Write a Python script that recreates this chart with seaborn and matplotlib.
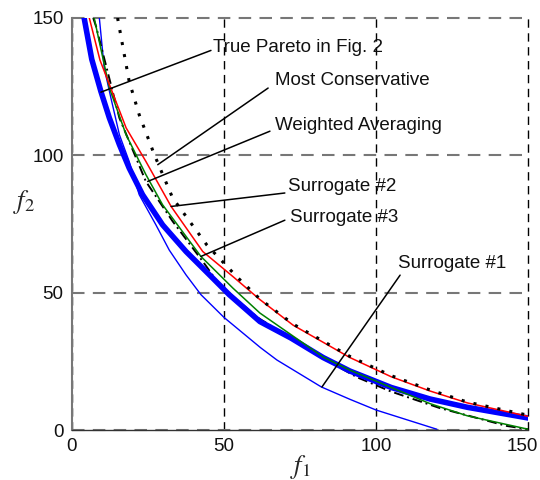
import matplotlib
matplotlib.use("Agg")
import matplotlib.pyplot as plt
import matplotlib.transforms as mtransforms
import seaborn as sns
import pandas as pd

# ---- data ----
true_f1 = [4.0, 6.5, 9.5, 12.3, 15.6, 18.8, 23.2, 29.8, 37.5, 46.3, 51.7, 61.8, 72, 82.6, 91.4, 105, 117.8, 130, 150]
true_f2 = [150, 135, 123.3, 113.6, 103.9, 95.4, 85.7, 74.7, 65, 55.3, 49.3, 39.5, 33.5, 26.4, 21.5, 15.5, 11.3, 8.3, 4.4]

s1_f1 = [9.0, 10.6, 12.8, 15.6, 18.8, 22.1, 27.6, 32, 37.5, 42.4, 50, 62, 67.4, 82, 91.4, 100, 110, 120]
s1_f2 = [150, 131.8, 120.9, 107.5, 97.8, 85.7, 74.7, 65.5, 56.5, 49.3, 41, 30, 25.5, 15.7, 11.2, 7.3, 3.8, 0.3]

s2_f1 = [5.7, 9.2, 12.3, 17.8, 24.3, 32.6, 43, 52.9, 61.8, 72.7, 91.4, 105, 117.8, 130, 150]
s2_f2 = [150, 134.7, 125.8, 110, 97.8, 81.4, 65, 55.9, 47.5, 38.2, 26.4, 19.4, 14.2, 9.9, 5]

s3_f1 = [7.3, 12.3, 17.8, 24.3, 29.8, 35.5, 42.4, 52.9, 61.8, 82.6, 91.4, 105, 117.8, 130, 150]
s3_f2 = [150, 124.5, 107.5, 93, 82, 73.5, 63.2, 51.7, 42.6, 26.6, 21.8, 15.5, 9.6, 5.2, 0.3]

mc_f1 = [15, 18.8, 22.1, 27.1, 33.1, 44.4, 54.3, 61.8, 72.7, 91.4, 105, 117.8, 130, 150]
mc_f2 = [150, 127, 114.8, 100.2, 84.5, 67.3, 55.7, 47.7, 38.6, 26.8, 19.8, 14.6, 10.2, 5.4]

wa_f1 = [7.0, 7.9, 15.6, 24.3, 33.1, 43, 48.5, 61, 82, 93.8, 105, 121, 143, 150]
wa_f2 = [150, 147, 113.6, 90.5, 76, 61.4, 52.9, 41, 26.5, 19.2, 14, 8, 1.5, 0.3]

labels = ["True Pareto in Fig. 2", "Most Conservative", "Weighted Averaging",
          "Surrogate #2", "Surrogate #3", "Surrogate #1"]
label_text_pos = [(46.4, 139.4), (66.8, 127.4), (66.8, 110.7), (71, 88.5), (71.7, 77.2), (107.2, 60.8)]
label_line_start = [(45.7, 138.2), (64.5, 124.5), (65.1, 108.8), (70, 86.3), (70, 76.4), (107.9, 56.4)]
label_line_end = [(9.5, 123), (28.2, 96.6), (24.9, 90.5), (32.6, 81.4), (42.4, 63.2), (82.2, 15.7)]

xticks = [0, 50, 100, 150]
yticks = [0, 50, 100, 150]

# ---- plotting ----
sns.set_style("white")
plt.rcParams['font.family'] = ['Liberation Sans Narrow', 'Liberation Sans', 'DejaVu Sans']
plt.rcParams['mathtext.fontset'] = 'stix'

fig = plt.figure(figsize=(5.4, 4.8), dpi=100)
ax = fig.add_axes([0.1333, 0.104, 0.8447, 0.8585])

def curve(x, y, **kw):
    df = pd.DataFrame({"f1": x, "f2": y})
    sns.lineplot(data=df, x="f1", y="f2", sort=False, estimator=None, ax=ax, **kw)

curve(s1_f1, s1_f2, color="#0000ff", lw=1.0)
curve(wa_f1, wa_f2, color="black", lw=1.4, linestyle=(0, (5, 2, 1, 2)))
curve(true_f1, true_f2, color="#0000ff", lw=4.0)
curve(s3_f1, s3_f2, color="#008000", lw=1.1)
curve(s2_f1, s2_f2, color="#ff0000", lw=1.1)
curve(mc_f1, mc_f2, color="black", lw=2.2, linestyle=(0, (1, 3)))

for lab, tp, ls, le in zip(labels, label_text_pos, label_line_start, label_line_end):
    ax.annotate("", xy=le, xytext=ls,
                arrowprops=dict(arrowstyle="-", color="black", lw=1.1,
                                shrinkA=0, shrinkB=0))
    ax.text(tp[0], tp[1], lab, fontsize=13.5, ha="left", va="center", color="#111111")

ax.set_xlim(0, 150)
ax.set_ylim(0, 150)
ax.set_xticks(xticks)
ax.set_yticks(yticks)
ax.tick_params(axis="both", labelsize=13.5, direction="out", length=4, width=1, pad=2)
ax.tick_params(axis="y", colors="#555555", labelcolor="#111111")
ax.tick_params(axis="x", colors="black", labelcolor="#111111")

# nudge the last x tick label so it stays inside the figure
last = ax.get_xticklabels()[-1]
last.set_transform(last.get_transform() +
                   mtransforms.ScaledTranslation(-6 / 100, 0, fig.dpi_scale_trans))

ax.xaxis.grid(True, color="black", linestyle=(0, (6, 4)), lw=1.0)
ax.yaxis.grid(True, color="#777777", linestyle=(0, (6, 4)), lw=1.5)
ax.set_axisbelow(True)
for g in ax.get_xgridlines() + ax.get_ygridlines():
    g.set_clip_on(False)

for s in ["top", "right"]:
    ax.spines[s].set_visible(False)
ax.spines["left"].set_color("#777777")
ax.spines["left"].set_linewidth(1.5)
ax.spines["bottom"].set_color("#333333")
ax.spines["bottom"].set_linewidth(1.0)

ax.set_xlabel(r"$f_1$", fontsize=19)
ax.set_ylabel(r"$f_2$", fontsize=19, rotation=0)
ax.xaxis.set_label_coords(0.5, -0.055)
ax.yaxis.set_label_coords(-0.105, 0.52)

fig.savefig("out.png", dpi=100)
